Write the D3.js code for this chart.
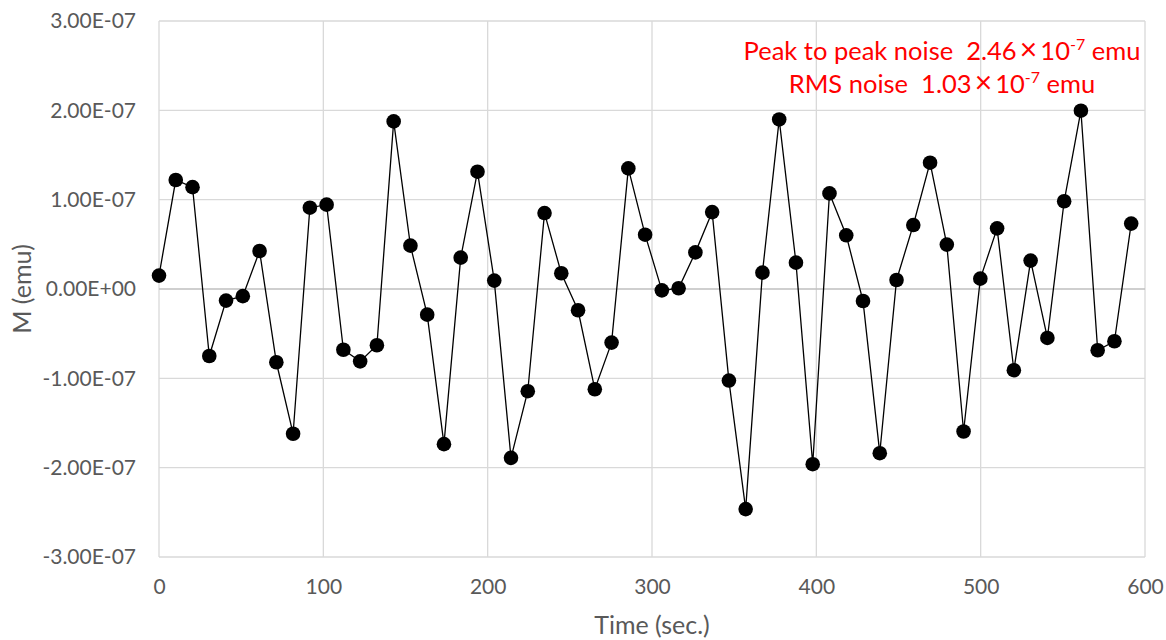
<!DOCTYPE html>
<html>
<head>
<meta charset="utf-8">
<script src="https://cdn.jsdelivr.net/npm/d3@7/dist/d3.min.js"></script>
<style>
  body { margin: 0; background: #ffffff; }
  svg text { font-family: Lato, "Open Sans", "Liberation Sans", sans-serif; }
</style>
</head>
<body>
<svg id="chart" width="1166" height="640"></svg>
<script>
// Magnetic moment noise measurement: time (s) vs. moment M (emu)
const timeSec = [
  0, 10.2, 20.4, 30.6, 40.8, 51.0, 61.2, 71.4, 81.6, 91.8,
  102.0, 112.2, 122.4, 132.6, 142.8, 153.0, 163.2, 173.4, 183.6, 193.8,
  204.0, 214.2, 224.4, 234.6, 244.8, 255.0, 265.2, 275.4, 285.6, 295.8,
  306.0, 316.2, 326.4, 336.6, 346.8, 357.0, 367.2, 377.4, 387.6, 397.8,
  408.0, 418.2, 428.4, 438.6, 448.8, 459.0, 469.2, 479.4, 489.6, 499.8,
  510.0, 520.2, 530.4, 540.6, 550.8, 561.0, 571.2, 581.4, 591.6
];
const momentEmu = [
  0.150e-7, 1.220e-7, 1.140e-7, -0.750e-7, -0.130e-7, -0.080e-7, 0.425e-7, -0.820e-7, -1.620e-7, 0.910e-7,
  0.944e-7, -0.680e-7, -0.810e-7, -0.630e-7, 1.876e-7, 0.485e-7, -0.287e-7, -1.737e-7, 0.351e-7, 1.313e-7,
  0.094e-7, -1.890e-7, -1.144e-7, 0.850e-7, 0.176e-7, -0.238e-7, -1.122e-7, -0.600e-7, 1.350e-7, 0.608e-7,
  -0.015e-7, 0.008e-7, 0.410e-7, 0.861e-7, -1.025e-7, -2.464e-7, 0.183e-7, 1.898e-7, 0.295e-7, -1.961e-7,
  1.070e-7, 0.601e-7, -0.134e-7, -1.838e-7, 0.101e-7, 0.716e-7, 1.414e-7, 0.497e-7, -1.595e-7, 0.116e-7,
  0.679e-7, -0.909e-7, 0.318e-7, -0.548e-7, 0.982e-7, 1.996e-7, -0.686e-7, -0.585e-7, 0.732e-7
];

const xTicks = [0, 100, 200, 300, 400, 500, 600];
const yTicks = [-3e-7, -2e-7, -1e-7, 0, 1e-7, 2e-7, 3e-7];
const yTickLabels = ["-3.00E-07", "-2.00E-07", "-1.00E-07", "0.00E+00", "1.00E-07", "2.00E-07", "3.00E-07"];

const xTitle = "Time (sec.)";
const yTitle = "M (emu)";
const noiseLines = [
  { label: "Peak to peak noise  ", mantissa: "2.46", exponent: "-7", unit: " emu" },
  { label: "RMS noise  ", mantissa: "1.03", exponent: "-7", unit: " emu" }
];

const width = 1166, height = 640;
const margin = { top: 21, right: 21, bottom: 83, left: 159 };

const svg = d3.select("#chart");

const x = d3.scaleLinear()
  .domain([0, 600])
  .range([margin.left, width - margin.right]);

const y = d3.scaleLinear()
  .domain([-3e-7, 3e-7])
  .range([height - margin.bottom, margin.top]);

// Gridlines
const grid = svg.append("g").attr("class", "grid");
grid.selectAll("line.v")
  .data(xTicks)
  .join("line")
  .attr("class", "v")
  .attr("x1", d => x(d)).attr("x2", d => x(d))
  .attr("y1", y(3e-7)).attr("y2", y(-3e-7))
  .attr("stroke", "#d9d9d9")
  .attr("stroke-width", 1.3);

grid.selectAll("line.h")
  .data(yTicks)
  .join("line")
  .attr("class", "h")
  .attr("x1", x(0)).attr("x2", x(600))
  .attr("y1", d => y(d)).attr("y2", d => y(d))
  .attr("stroke", d => d === 0 ? "#bfbfbf" : "#d9d9d9")
  .attr("stroke-width", 1.3);

// Y axis labels
const yAxis = d3.axisLeft(y)
  .tickValues(yTicks)
  .tickFormat((d, i) => yTickLabels[i])
  .tickSize(0)
  .tickPadding(23);

svg.append("g")
  .attr("transform", `translate(${margin.left},0)`)
  .call(yAxis)
  .call(g => g.select(".domain").remove())
  .call(g => g.selectAll("text")
    .attr("fill", "#595959")
    .style("font-size", "21px"));

// X axis labels (placed along the bottom of the plot)
const xAxis = d3.axisBottom(x)
  .tickValues(xTicks)
  .tickFormat(d3.format("d"))
  .tickSize(0)
  .tickPadding(22);

svg.append("g")
  .attr("transform", `translate(0,${height - margin.bottom})`)
  .call(xAxis)
  .call(g => g.select(".domain").remove())
  .call(g => g.selectAll("text")
    .attr("fill", "#595959")
    .style("font-size", "21px"));

// Axis titles
svg.append("text")
  .attr("x", (x(0) + x(600)) / 2)
  .attr("y", 634)
  .attr("text-anchor", "middle")
  .attr("fill", "#595959")
  .style("font-size", "25px")
  .text(xTitle);

svg.append("text")
  .attr("transform", `translate(31,${y(0)}) rotate(-90)`)
  .attr("text-anchor", "middle")
  .attr("fill", "#595959")
  .style("font-size", "25px")
  .text(yTitle);

// Data line and markers
const line = d3.line()
  .x((d, i) => x(timeSec[i]))
  .y(d => y(d));

svg.append("path")
  .datum(momentEmu)
  .attr("d", line)
  .attr("fill", "none")
  .attr("stroke", "#000000")
  .attr("stroke-width", 1.3);

svg.append("g")
  .selectAll("circle")
  .data(momentEmu)
  .join("circle")
  .attr("cx", (d, i) => x(timeSec[i]))
  .attr("cy", d => y(d))
  .attr("r", 7.3)
  .attr("fill", "#000000");

// Noise annotation
const note = svg.append("g").attr("class", "note");
noiseLines.forEach((ln, i) => {
  const t = note.append("text")
    .attr("x", 942)
    .attr("y", 60 + i * 32.7)
    .attr("text-anchor", "middle")
    .attr("fill", "#ff0000")
    .style("font-size", "25.5px")
    .style("white-space", "pre");
  t.append("tspan").text(ln.label + ln.mantissa + "\u2009");
  t.append("tspan").style("font-size", "30px").text("\u00D7");
  t.append("tspan").text("\u200910");
  t.append("tspan").attr("dy", -10).style("font-size", "16px").text(ln.exponent);
  t.append("tspan").attr("dy", 10).text(ln.unit);
});
</script>
</body>
</html>
